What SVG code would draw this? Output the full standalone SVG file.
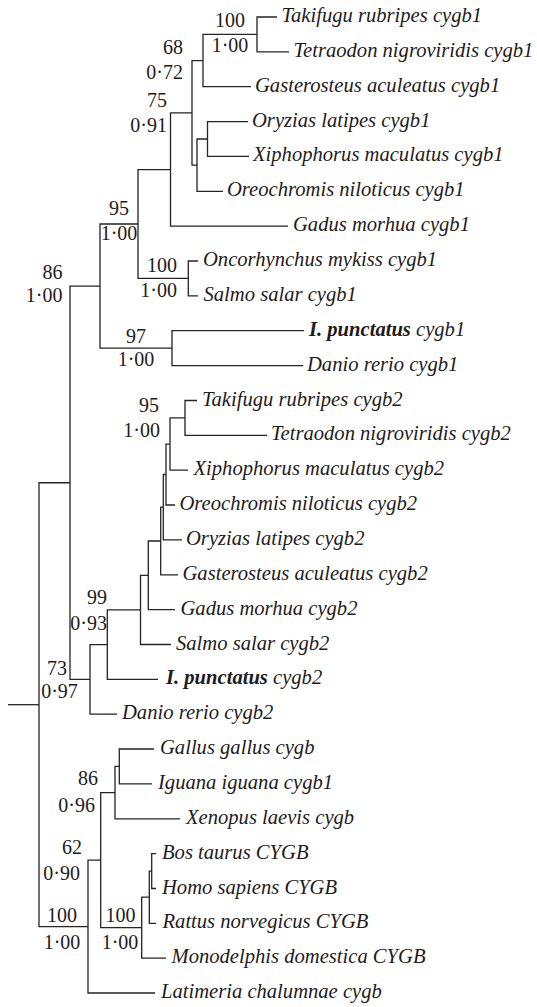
<svg xmlns="http://www.w3.org/2000/svg" width="537" height="1007" viewBox="0 0 537 1007">
<style>
.br{fill:none;stroke:#262424;stroke-width:1.3;stroke-linejoin:miter}
.lf{font-family:"Liberation Serif","Times New Roman",serif;font-style:italic;font-size:20.6px;fill:#1e1b1c}
.bd{font-weight:bold}
.sv{font-family:"Liberation Serif","Times New Roman",serif;font-size:20px;fill:#1e1b1c}
.m{text-anchor:middle}
.e{text-anchor:end}
</style>
<rect width="537" height="1007" fill="#ffffff"/>
<g id="connectors" class="br">
<path d="M8,704.7 H39"/>
<path d="M70,482.75 H39 V926.6 H88"/>
<path d="M100,286.1 H70 V679.4 H90"/>
<path d="M138,224 H100 V348.15 H172"/>
<path d="M170.5,169.55 H138 V278.45 H188.3"/>
<path d="M192,112.9 H170.5 V226.2 H288"/>
<path d="M203,60.6 H192 V165.15 H197"/>
<path d="M257,34.45 H203 V86.7 H251"/>
<path d="M277,17 H257 V51.9 H289"/>
<path d="M207.5,139 H197 V191.3 H223"/>
<path d="M248,121.6 H207.5 V156.4 H249"/>
<path d="M198,261 H188.3 V295.9 H198"/>
<path d="M304,330.7 H172 V365.6 H303"/>
<path d="M107.3,644.6 H90 V714.2 H117"/>
<path d="M140.5,609.9 H107.3 V679.3 H158"/>
<path d="M148.3,575.3 H140.5 V644.5 H171"/>
<path d="M160.7,541 H148.3 V609.6 H175"/>
<path d="M163.3,507.2 H160.7 V574.8 H178"/>
<path d="M166,474.5 H163.3 V539.9 H182"/>
<path d="M170,444.05 H166 V505 H175"/>
<path d="M185,417.9 H170 V470.2 H188"/>
<path d="M197,400.5 H185 V435.3 H267"/>
<path d="M100.7,860.15 H88 V993 H155"/>
<path d="M115,792.6 H100.7 V927.7 H141.7"/>
<path d="M119.3,766.45 H115 V818.8 H180"/>
<path d="M154,749 H119.3 V783.9 H152"/>
<path d="M149.3,897.2 H141.7 V958.2 H166"/>
<path d="M151.7,871.05 H149.3 V923.3 H156"/>
<path d="M156,853.6 H151.7 V888.5 H156"/>
</g>
<g id="leaves">
<g id="leaf-takifugu-cygb1"><text class="lf" x="281.5" y="22">Takifugu rubripes cygb1</text></g>
<g id="leaf-tetraodon-cygb1"><text class="lf" x="293.5" y="57">Tetraodon nigroviridis cygb1</text></g>
<g id="leaf-gasterosteus-cygb1"><text class="lf" x="255" y="91.7">Gasterosteus aculeatus cygb1</text></g>
<g id="leaf-oryzias-cygb1"><text class="lf" x="252" y="126.6">Oryzias latipes cygb1</text></g>
<g id="leaf-xiphophorus-cygb1"><text class="lf" x="253" y="161.4">Xiphophorus maculatus cygb1</text></g>
<g id="leaf-oreochromis-cygb1"><text class="lf" x="227" y="196.3">Oreochromis niloticus cygb1</text></g>
<g id="leaf-gadus-cygb1"><text class="lf" x="293" y="231.2">Gadus morhua cygb1</text></g>
<g id="leaf-oncorhynchus-cygb1"><text class="lf" x="203" y="266">Oncorhynchus mykiss cygb1</text></g>
<g id="leaf-salmo-cygb1"><text class="lf" x="203.5" y="300.9">Salmo salar cygb1</text></g>
<g id="leaf-ipunctatus-cygb1"><text class="lf" x="309" y="335.7"><tspan class="bd">I. punctatus</tspan> cygb1</text></g>
<g id="leaf-danio-cygb1"><text class="lf" x="307" y="370.6">Danio rerio cygb1</text></g>
<g id="leaf-takifugu-cygb2"><text class="lf" x="202" y="405.5">Takifugu rubripes cygb2</text></g>
<g id="leaf-tetraodon-cygb2"><text class="lf" x="271" y="440.3">Tetraodon nigroviridis cygb2</text></g>
<g id="leaf-xiphophorus-cygb2"><text class="lf" x="193.5" y="475.2">Xiphophorus maculatus cygb2</text></g>
<g id="leaf-oreochromis-cygb2"><text class="lf" x="179.5" y="510">Oreochromis niloticus cygb2</text></g>
<g id="leaf-oryzias-cygb2"><text class="lf" x="186" y="544.9">Oryzias latipes cygb2</text></g>
<g id="leaf-gasterosteus-cygb2"><text class="lf" x="182.5" y="579.8">Gasterosteus aculeatus cygb2</text></g>
<g id="leaf-gadus-cygb2"><text class="lf" x="180.5" y="614.6">Gadus morhua cygb2</text></g>
<g id="leaf-salmo-cygb2"><text class="lf" x="176" y="649.5">Salmo salar cygb2</text></g>
<g id="leaf-ipunctatus-cygb2"><text class="lf" x="166" y="684.3"><tspan class="bd">I. punctatus</tspan> cygb2</text></g>
<g id="leaf-danio-cygb2"><text class="lf" x="122" y="719.2">Danio rerio cygb2</text></g>
<g id="leaf-gallus"><text class="lf" x="160" y="754">Gallus gallus cygb</text></g>
<g id="leaf-iguana"><text class="lf" x="158" y="788.9">Iguana iguana cygb1</text></g>
<g id="leaf-xenopus"><text class="lf" x="186" y="823.8">Xenopus laevis cygb</text></g>
<g id="leaf-bos"><text class="lf" x="162" y="858.6">Bos taurus CYGB</text></g>
<g id="leaf-homo"><text class="lf" x="162" y="893.5">Homo sapiens CYGB</text></g>
<g id="leaf-rattus"><text class="lf" x="162.5" y="928.3">Rattus norvegicus CYGB</text></g>
<g id="leaf-monodelphis"><text class="lf" x="171.5" y="963.2">Monodelphis domestica CYGB</text></g>
<g id="leaf-latimeria"><text class="lf" x="161" y="998">Latimeria chalumnae cygb</text></g>
</g>
<g id="support">
<g id="node-f"><text class="sv m" x="230" y="27">100</text><text class="sv m" x="230" y="52">1·00</text></g>
<g id="node-e"><text class="sv e" x="183" y="54">68</text><text class="sv e" x="183" y="79">0·72</text></g>
<g id="node-d"><text class="sv e" x="167" y="107">75</text><text class="sv e" x="167" y="132">0·91</text></g>
<g id="node-b"><text class="sv m" x="119" y="215">95</text><text class="sv m" x="119" y="240">1·00</text></g>
<g id="node-i"><text class="sv e" x="177" y="272">100</text><text class="sv e" x="177" y="297">1·00</text></g>
<g id="node-a"><text class="sv e" x="62.5" y="279">86</text><text class="sv e" x="62.5" y="302">1·00</text></g>
<g id="node-j"><text class="sv m" x="136" y="343">97</text><text class="sv m" x="136" y="366">1·00</text></g>
<g id="node-k"><text class="sv e" x="159" y="412">95</text><text class="sv e" x="160" y="437">1·00</text></g>
<g id="node-r"><text class="sv e" x="107" y="604">99</text><text class="sv e" x="107" y="630">0·93</text></g>
<g id="node-s"><text class="sv m" x="57" y="675">73</text><text class="sv m" x="59.5" y="698">0·97</text></g>
<g id="node-v"><text class="sv e" x="98" y="785">86</text><text class="sv e" x="95" y="812">0·96</text></g>
<g id="node-u"><text class="sv e" x="82" y="854">62</text><text class="sv e" x="80" y="880">0·90</text></g>
<g id="node-t"><text class="sv m" x="62" y="922">100</text><text class="sv m" x="62" y="949">1·00</text></g>
<g id="node-x"><text class="sv m" x="120.5" y="922">100</text><text class="sv m" x="120" y="949">1·00</text></g>
</g>
</svg>
